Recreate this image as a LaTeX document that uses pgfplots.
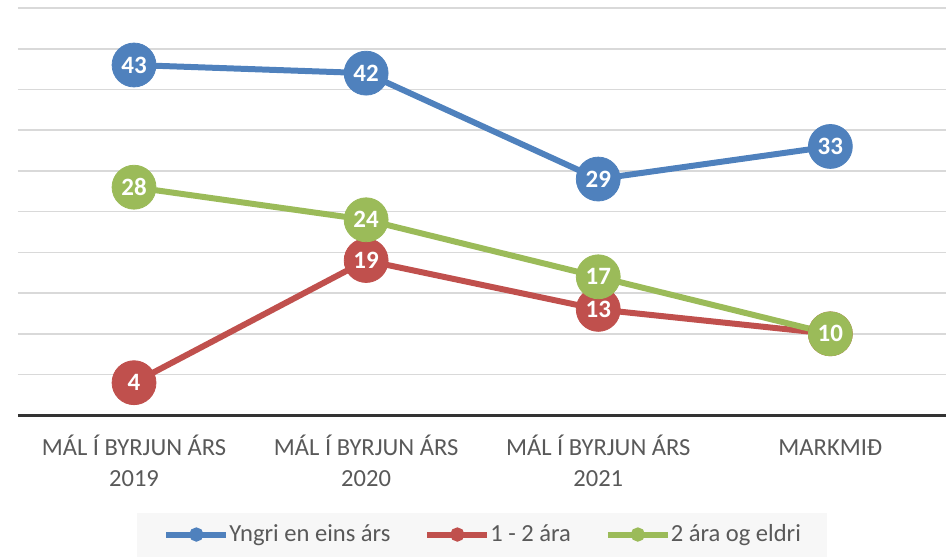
\documentclass[border=0pt]{standalone}
\usepackage{pgfplots}
\pgfplotsset{compat=1.18}
\usepackage{fontspec}
\setmainfont{Carlito}
\definecolor{sblue}{HTML}{4F81BD}
\definecolor{sred}{HTML}{C0504D}
\definecolor{sgreen}{HTML}{9BBB59}
\definecolor{txt}{HTML}{595959}
\definecolor{grd}{HTML}{D9D9D9}
\begin{document}
\begin{tikzpicture}
\begin{axis}[
  scale only axis,
  width=465pt, height=204pt,
  xmin=-0.5, xmax=3.5,
  ymin=0, ymax=50,
  /pgf/number format/assume math mode=true,
  xtick={0,1,2,3},
  xticklabels={{\strut MÁL Í BYRJUN ÁRS\\2019},{\strut MÁL Í BYRJUN ÁRS\\2020},{\strut MÁL Í BYRJUN ÁRS\\2021},{\strut MARKMIÐ}},
  xticklabel style={align=center, font=\fontsize{12.3}{15.5}\selectfont, text=txt, yshift=-6pt},
  ytick={5,10,...,50},
  yticklabels={},
  major tick length=0pt,
  ymajorgrids,
  grid style={grd, line width=0.8pt},
  extra y ticks={0},
  extra y tick labels={},
  extra y tick style={grid style={black!80, line width=1.6pt}},
  axis line style={draw=none},
  clip=false,
  every axis plot/.append style={line width=3pt, mark=*, mark size=11pt, mark options={solid, line width=0.4pt}},
  nodes near coords,
  every node near coord/.append style={anchor=center, text=white, font=\bfseries\fontsize{12.5}{14}\selectfont},
  legend columns=3,
  legend style={at={(0.5,0)}, anchor=north, yshift=-48.5pt, draw=none, fill=black!3,
    font=\fontsize{12.3}{15}\selectfont, text=txt, inner xsep=13pt, inner ysep=4pt,
    nodes={inner xsep=0pt},
    /tikz/every even column/.append style={column sep=17pt}},
  legend image code/.code={
    \draw[#1, mark=none] (0pt,0pt) -- (30pt,0pt);
    \fill[#1] (15pt,0pt) circle (2pt);
  },
]
\addplot[color=sblue] coordinates {(0,43) (1,42) (2,29) (3,33)};
\addplot[color=sred] coordinates {(0,4) (1,19) (2,13) (3,10)};
\addplot[color=sgreen] coordinates {(0,28) (1,24) (2,17) (3,10)};
\legend{Yngri en eins árs, 1 - 2 ára, 2 ára og eldri}
\end{axis}
\path (current axis.north west) ++(-9pt,4pt);
\end{tikzpicture}
\end{document}
